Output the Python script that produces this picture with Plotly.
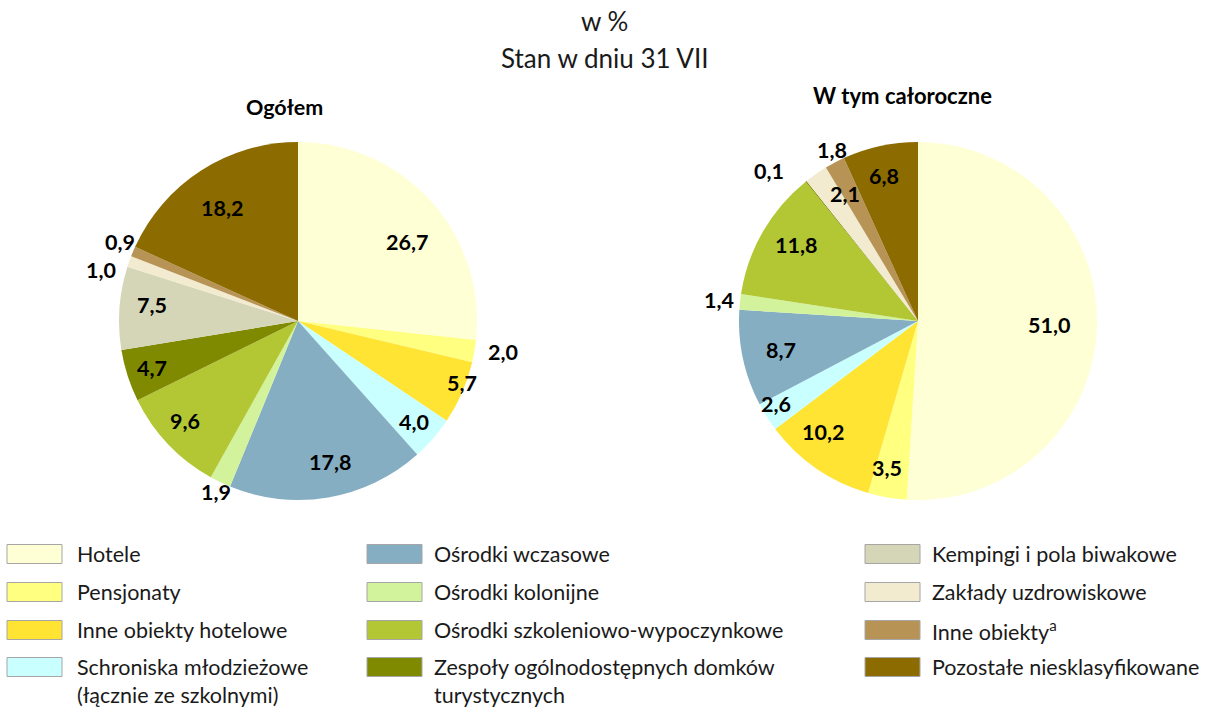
import math
import plotly.graph_objects as go

# ---------------- data ----------------
categories = [
    "Hotele", "Pensjonaty", "Inne obiekty hotelowe",
    "Schroniska młodzieżowe (łącznie ze szkolnymi)", "Ośrodki wczasowe",
    "Ośrodki kolonijne", "Ośrodki szkoleniowo-wypoczynkowe",
    "Zespoły ogólnodostępnych domków turystycznych",
    "Kempingi i pola biwakowe", "Zakłady uzdrowiskowe", "Inne obiekty",
    "Pozostałe niesklasyfikowane",
]
values_total = [26.7, 2.0, 5.7, 4.0, 17.8, 1.9, 9.6, 4.7, 7.5, 1.0, 0.9, 18.2]
values_year_round = [51.0, 3.5, 10.2, 2.6, 8.7, 1.4, 11.8, 0.1, 0.0, 2.1, 1.8, 6.8]

legend_labels = [
    "Hotele", "Pensjonaty", "Inne obiekty hotelowe",
    "Schroniska młodzieżowe<br>(łącznie ze szkolnymi)",
    "Ośrodki wczasowe", "Ośrodki kolonijne", "Ośrodki szkoleniowo-wypoczynkowe",
    "Zespoły ogólnodostępnych domków<br>turystycznych",
    "Kempingi i pola biwakowe", "Zakłady uzdrowiskowe", "Inne obiekty<sup>a</sup>",
    "Pozostałe niesklasyfikowane",
]

title_lines = ["w %", "Stan w dniu 31 VII"]
pie_titles = ["Ogółem", "W tym całoroczne"]

# ---------------- style ----------------
colors = ['#FFFFD5', '#FFFF80', '#FFE433', '#C9FFFF', '#85AEC2', '#D2F29B',
          '#B2C733', '#808A00', '#D5D5B8', '#F2EBD0', '#B79456', '#8C6C00']

W, H = 1208, 708
FONT = "Lato"
pie_geom = [(298, 321, 179), (918, 321, 179)]  # centre x, centre y, radius (px)

# label radial factor and angular nudge (degrees) per slice
label_r = [
    [0.75, 1.16, 0.98, 0.86, 0.81, 1.06, 0.84, 0.855, 0.82, 1.135, 1.09, 0.76],
    [0.73, 0.84, 0.815, 0.92, 0.78, 1.12, 0.80, 1.18, 0.0, 0.82, 1.07, 0.83],
]
label_nudge = [
    [6, -1, -3, 0, -3, 0, 2, 0, 2, -5, 1, -1],
    [0, 2, 6, 2, 0, 0, 2, -6, 0, 5, 1, -1],
]


def px(x):
    return x / W


def py(y):
    return 1 - y / H


fig = go.Figure()
annotations = []

for k, vals in enumerate([values_total, values_year_round]):
    cx, cy, r = pie_geom[k]
    fig.add_trace(go.Pie(
        labels=categories, values=vals, sort=False, direction="clockwise",
        rotation=0, textinfo="none", hoverinfo="label+value",
        marker=dict(colors=colors, line=dict(width=0)),
        showlegend=False,
        domain=dict(x=[px(cx - r), px(cx + r)], y=[py(cy + r), py(cy - r)]),
    ))
    total = sum(vals)
    cum = 0.0
    for i, v in enumerate(vals):
        if v > 0:
            theta = 2 * math.pi * (cum + v / 2) / total + math.radians(label_nudge[k][i])
            f = label_r[k][i]
            lx = cx + f * r * math.sin(theta)
            ly = cy - f * r * math.cos(theta)
            annotations.append(dict(
                x=px(lx), y=py(ly), xref="paper", yref="paper",
                text=f"{v:.1f}".replace(".", ","), showarrow=False,
                xanchor="center", yanchor="middle",
                font=dict(family=FONT, size=21.5, color="black", weight="bold"),
            ))
        cum += v

# titles
annotations.append(dict(x=0.5, y=py(21), xref="paper", yref="paper", text=title_lines[0],
                        showarrow=False, xanchor="center", yanchor="middle",
                        font=dict(family=FONT, size=26, color="#1a1a1a")))
annotations.append(dict(x=0.5, y=py(58), xref="paper", yref="paper", text=title_lines[1],
                        showarrow=False, xanchor="center", yanchor="middle",
                        font=dict(family=FONT, size=26, color="#1a1a1a")))
annotations.append(dict(x=px(284), y=py(107), xref="paper", yref="paper", text=pie_titles[0],
                        showarrow=False, xanchor="center", yanchor="middle",
                        font=dict(family=FONT, size=21.5, color="black", weight="bold")))
annotations.append(dict(x=px(902), y=py(96), xref="paper", yref="paper", text=pie_titles[1],
                        showarrow=False, xanchor="center", yanchor="middle",
                        font=dict(family=FONT, size=22, color="black", weight="bold")))

# custom legend (3 columns x 4 rows)
shapes = []
col_box_x = [7, 367, 865]
col_text_x = [75, 432, 930]
row_y = [554, 592, 630, 667]
for i, lab in enumerate(legend_labels):
    c, rr = divmod(i, 4)
    bx, by = col_box_x[c], row_y[rr]
    shapes.append(dict(type="rect", xref="paper", yref="paper",
                       x0=px(bx), x1=px(bx + 55), y0=py(by + 9.5), y1=py(by - 9.5),
                       fillcolor=colors[i], line=dict(color="#A6A6A6", width=1)))
    multiline = "<br>" in lab
    annotations.append(dict(
        x=px(col_text_x[c]), y=py(by - 15.5) if multiline else py(by),
        xref="paper", yref="paper", text=lab, showarrow=False,
        xanchor="left", yanchor="top" if multiline else "middle", align="left",
        font=dict(family=FONT, size=21.5, color="#1a1a1a"),
    ))

fig.update_layout(
    width=W, height=H, margin=dict(l=0, r=0, t=0, b=0),
    paper_bgcolor="white", plot_bgcolor="white",
    annotations=annotations, shapes=shapes, showlegend=False,
)

fig.write_html("out.html", config={"displayModeBar": False},
               post_script="document.body.style.margin='0';document.body.style.overflow='hidden';")
